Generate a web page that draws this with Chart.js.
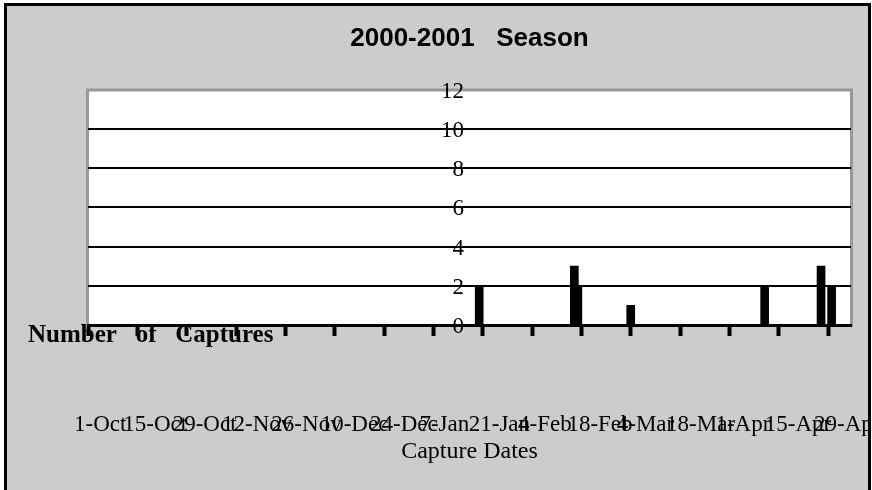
<!DOCTYPE html>
<html>
<head>
<meta charset="utf-8">
<title>2000-2001 Season</title>
<script src="https://cdn.jsdelivr.net/npm/chart.js@4.4.1/dist/chart.umd.min.js"></script>
<style>
  html, body { margin: 0; padding: 0; overflow: hidden; background: #fff; }
  #frame {
    position: absolute; left: 4px; top: 3px;
    width: 861px; height: 484px;
    border: 3px solid #000; border-bottom: none;
    background: #ccc;
  }
  canvas { display: block; }
</style>
</head>
<body>
<div id="frame"><canvas id="myChart" width="861" height="484"></canvas></div>
<script>
// season data
const seasonStart = "2000-10-01";
const tickLabels = ["1-Oct", "15-Oct", "29-Oct", "12-Nov", "26-Nov", "10-Dec", "24-Dec", "7-Jan",
    "21-Jan", "4-Feb", "18-Feb", "4-Mar", "18-Mar", "1-Apr", "15-Apr", "29-Apr"];
const captureDates = ["2001-01-20", "2001-02-16", "2001-02-17", "2001-03-04", "2001-04-11", "2001-04-27", "2001-04-30"];
const captures = [2, 3, 2, 1, 2, 3, 2];
const yTicks = [0, 2, 4, 6, 8, 10, 12];

const chartTitle = "2000-2001   Season";
const xTitle = "Capture Dates";
const yTitle = "Number   of   Captures";

// days counted from 1-Oct
const dayOf = (d) => (Date.parse(d) - Date.parse(seasonStart)) / 86400000;
const points = captureDates.map((d, i) => ({ x: dayOf(d), y: captures[i] }));

// white plot area, grey frame, and the stray y title under the axis
const plotFrame = {
    id: "plotFrame",
    beforeDraw(chart) {
        const { ctx, chartArea: a } = chart;
        ctx.save();
        ctx.fillStyle = "#fff";
        ctx.fillRect(a.left, a.top, a.right - a.left, a.bottom - a.top);
        ctx.strokeStyle = "#989898";
        ctx.lineWidth = 3;
        ctx.strokeRect(a.left - 0.5, a.top + 0.5, a.right - a.left + 1, a.bottom - a.top);
        ctx.font = "bold 25px 'Liberation Serif'";
        ctx.fillStyle = "#000";
        ctx.textBaseline = "alphabetic";
        ctx.fillText(yTitle, 21, a.bottom + 17);
        ctx.restore();
    },
};

const ctx = document.getElementById("myChart").getContext("2d");
const myChart = new Chart(ctx, {
    type: "bar",
    data: {
        datasets: [
            {
                label: "Captures",
                data: points,
                backgroundColor: "#000",
                borderWidth: 0,
                barThickness: 8,
            },
        ],
    },
    plugins: [plotFrame],
    options: {
        responsive: false,
        devicePixelRatio: 1,
        animation: false,
        layout: {
            padding: { left: 81, right: 17, top: 0, bottom: 23.6 },
        },
        plugins: {
            legend: { display: false },
            tooltip: { enabled: false },
            title: {
                display: true,
                text: chartTitle,
                fullSize: false,
                color: "#000",
                font: { family: "'Liberation Sans'", size: 26, weight: "bold" },
                padding: { top: 16.9, bottom: 35.4 },
            },
        },
        scales: {
            x: {
                type: "linear",
                min: 0,
                max: 216.5,
                bounds: "data",
                offset: false,
                grid: {
                    offset: false,
                    drawOnChartArea: false,
                    tickLength: 86,
                    tickWidth: 4,
                    tickColor: "#000",
                    tickBorderDash: [9, 400],
                },
                border: { display: true, color: "#000", width: 3 },
                ticks: {
                    stepSize: 14,
                    includeBounds: false,
                    autoSkip: false,
                    maxRotation: 0,
                    minRotation: 0,
                    align: "start",
                    labelOffset: -14,
                    padding: 0,
                    color: "#000",
                    font: { family: "'Liberation Serif'", size: 23 },
                    callback: (value) => tickLabels[value / 14] ?? "",
                },
                title: {
                    display: true,
                    text: xTitle,
                    color: "#000",
                    font: { family: "'Liberation Serif'", size: 24 },
                    padding: { top: -1, bottom: 0 },
                },
                afterFit: (scale) => {
                    scale.paddingLeft = 0;
                    scale.paddingRight = 0;
                },
            },
            y: {
                axis: "y",
                position: { x: 106.7 },
                min: 0,
                max: 12,
                grid: {
                    drawTicks: false,
                    lineWidth: 2,
                    color: (c) => (c.tick && c.tick.value === 12 ? "rgba(0,0,0,0)" : "#000"),
                },
                border: { display: false },
                afterBuildTicks: (scale) => {
                    scale.ticks = yTicks.map((v) => ({ value: v }));
                },
                ticks: {
                    padding: 3,
                    labelOffset: 2,
                    color: "#000",
                    font: { family: "'Liberation Serif'", size: 23 },
                },
            },
        },
    },
});
</script>
</body>
</html>
